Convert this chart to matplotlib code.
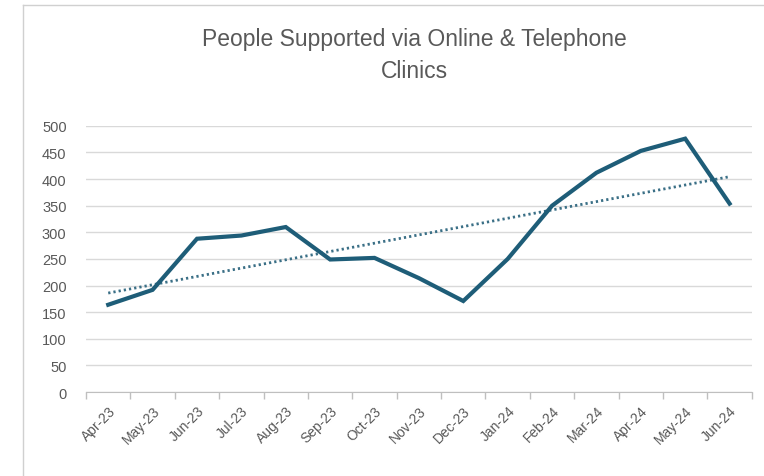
import numpy as np
import matplotlib.pyplot as plt
from matplotlib.lines import Line2D

# ======================================================
# Data
# ======================================================
months = ['Apr-23', 'May-23', 'Jun-23', 'Jul-23', 'Aug-23', 'Sep-23', 'Oct-23',
          'Nov-23', 'Dec-23', 'Jan-24', 'Feb-24', 'Mar-24', 'Apr-24', 'May-24',
          'Jun-24']
people = [164, 192, 288, 294, 310, 249, 252, 214, 171, 250, 350, 412, 453, 476, 354]
yticks = [0, 50, 100, 150, 200, 250, 300, 350, 400, 450, 500]

plt.rcParams['font.family'] = ['Liberation Sans Narrow', 'Liberation Sans', 'DejaVu Sans']

lineColor = '#1E5D78'
textColor = '#595959'

fig = plt.figure(figsize=(7.64, 4.77), dpi=100)
ax = fig.add_axes([0.1126, 0.176, 0.8714, 0.558])

x = np.arange(len(months))
ax.plot(x, people, color=lineColor, linewidth=3.0, solid_joinstyle='miter', zorder=3)

# linear trendline (least squares, like the spreadsheet one)
slope, intercept = np.polyfit(x, people, 1)
ax.plot(x, slope * x + intercept, color='#3A6F86', linewidth=2.0,
        linestyle=(0, (0.8, 1.1)), dash_capstyle='butt', zorder=2)

ax.set_xlim(-0.5, len(months) - 0.5)
ax.set_ylim(0, 500)
ax.set_yticks(yticks)
ax.set_xticks(x)
ax.set_xticklabels(months, rotation=45, ha='right', rotation_mode='anchor')
ax.set_xticks(np.arange(-0.5, len(months)), minor=True)
ax.tick_params(axis='x', which='major', length=0, pad=8, labelsize=10, labelcolor=textColor)
ax.tick_params(axis='x', which='minor', length=5, color='#BFBFBF', width=1)
ax.tick_params(axis='y', length=0, pad=14, labelsize=10.5, labelcolor=textColor)

ax.grid(axis='y', color='#D9D9D9', linewidth=1)
ax.set_axisbelow(True)
for side in ['left', 'right', 'top']:
    ax.spines[side].set_visible(False)
ax.spines['bottom'].set_color('#BFBFBF')

fig.text(0.543, 0.883, 'People Supported via Online & Telephone\nClinics',
         ha='center', va='center', fontsize=16.5, color=textColor, linespacing=1.5)

# chart area border (top and left edges visible)
fig.add_artist(Line2D([23 / 764, 1], [1 - 6 / 477, 1 - 6 / 477], color='#D0D0D0', linewidth=1))
fig.add_artist(Line2D([23 / 764, 23 / 764], [0, 1 - 6 / 477], color='#D0D0D0', linewidth=1))

plt.savefig('out.png', dpi=100)
